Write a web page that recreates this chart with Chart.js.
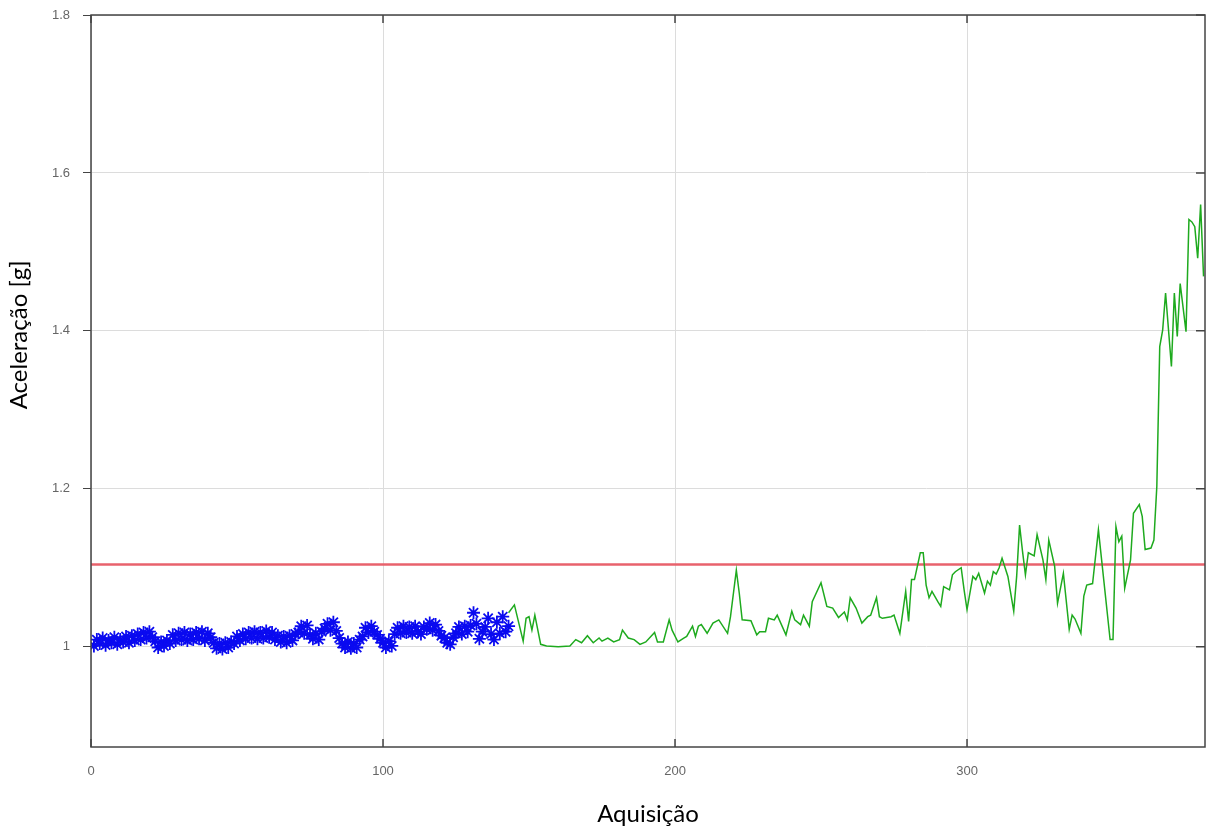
<!DOCTYPE html>
<html>
<head>
<meta charset="utf-8">
<script src="https://cdn.jsdelivr.net/npm/chart.js@4.4.1/dist/chart.umd.min.js"></script>
<style>
  body { margin: 0; background: #fff; }
  #wrap { width: 1207px; height: 830px; }
</style>
</head>
<body>
<div id="wrap"><canvas id="grafico-aceleracao" width="1207" height="830"></canvas></div>
<script>
// eixos
var xTicks = [0, 100, 200, 300];
var yTicks = [1, 1.2, 1.4, 1.6, 1.8];
var xMin = 0, xMax = 381.5;
var yMin = 0.873, yMax = 1.8;
var tituloX = 'Aquisição';
var tituloY = 'Aceleração [g]';

// limiar (linha vermelha)
var limiar = 1.104;

// aquisicoes 1..143 (asteriscos azuis)
var azulValores = [
  1.001, 1.009, 1.004, 1.011, 1.002, 1.008, 1.005, 1.012, 1.003, 1.009,
  1.006, 1.013, 1.005, 1.014, 1.008, 1.016, 1.009, 1.018, 1.011, 1.019,
  1.012, 1.007, 0.999, 1.006, 1.001, 1.008, 1.004, 1.015, 1.008, 1.017,
  1.009, 1.018, 1.008, 1.016, 1.009, 1.018, 1.010, 1.019, 1.008, 1.017,
  1.012, 1.005, 0.998, 1.004, 0.997, 1.005, 0.999, 1.006, 1.004, 1.013,
  1.008, 1.016, 1.010, 1.018, 1.011, 1.019, 1.010, 1.018, 1.011, 1.020,
  1.012, 1.018, 1.009, 1.014, 1.006, 1.013, 1.005, 1.014, 1.008, 1.016,
  1.018, 1.026, 1.017, 1.027, 1.015, 1.010, 1.017, 1.009, 1.019, 1.023,
  1.029, 1.021, 1.031, 1.020, 1.011, 1.004, 0.999, 1.006, 0.998, 1.004,
  0.999, 1.009, 1.013, 1.024, 1.018, 1.026, 1.019, 1.015, 1.010, 1.005,
  0.999, 1.007, 1.001, 1.016, 1.024, 1.017, 1.026, 1.018, 1.025, 1.017,
  1.026, 1.019, 1.016, 1.025, 1.022, 1.030, 1.021, 1.028, 1.020, 1.014,
  1.011, 1.005, 1.003, 1.012, 1.017, 1.025, 1.016, 1.026, 1.019, 1.027,
  1.043, 1.029, 1.010, 1.019, 1.025, 1.036, 1.016, 1.009, 1.031, 1.017,
  1.038, 1.019, 1.026
];

// linha verde (aquisicao, aceleracao)
var verdeX = [
  143, 145, 148, 149, 150, 151, 152, 154, 156, 160, 164, 166, 168, 170, 172, 174, 175, 177, 179, 181,
  182, 184, 186, 188, 190, 193, 194, 196, 198, 199, 201, 203, 204, 206, 207, 208, 209, 211, 213, 215,
  218, 219, 221, 222, 223, 226, 228, 229, 231, 232, 234, 235, 238, 240, 241, 243, 244, 246, 247, 250,
  252, 254, 256, 258, 259, 260, 262, 264, 266, 267, 269, 270, 271, 274, 275, 277, 279, 280, 281, 282,
  284, 285, 286, 287, 288, 290, 291, 292, 294, 295, 296, 298, 299, 300, 302, 303, 304, 306, 307, 308,
  309, 310, 311, 312, 314, 316, 317, 318, 319, 320, 321, 323, 324, 326, 327, 328, 330, 331, 333, 335,
  336, 337, 339, 340, 341, 343, 345, 349, 350, 351, 352, 353, 354, 356, 357, 359, 360, 361, 363, 364,
  365, 366, 367, 368, 370, 371, 372, 373, 375, 376, 377, 378, 379, 380, 381
];
var verdeY = [
  1.043, 1.053, 1.007, 1.036, 1.038, 1.021, 1.040, 1.003, 1.001, 1.000, 1.001, 1.009, 1.005, 1.014, 1.005, 1.011, 1.007, 1.011, 1.006, 1.009,
  1.021, 1.011, 1.009, 1.003, 1.006, 1.018, 1.006, 1.006, 1.034, 1.021, 1.006, 1.011, 1.013, 1.026, 1.013, 1.026, 1.028, 1.017, 1.030, 1.034,
  1.017, 1.038, 1.097, 1.068, 1.034, 1.033, 1.015, 1.019, 1.019, 1.036, 1.034, 1.040, 1.015, 1.045, 1.034, 1.028, 1.040, 1.026, 1.057, 1.081,
  1.051, 1.049, 1.037, 1.044, 1.034, 1.062, 1.049, 1.030, 1.038, 1.040, 1.062, 1.038, 1.036, 1.038, 1.040, 1.017, 1.070, 1.032, 1.085, 1.085,
  1.119, 1.119, 1.078, 1.062, 1.070, 1.057, 1.051, 1.076, 1.072, 1.091, 1.095, 1.100, 1.072, 1.047, 1.089, 1.085, 1.093, 1.068, 1.083, 1.078,
  1.095, 1.092, 1.100, 1.112, 1.089, 1.045, 1.089, 1.154, 1.121, 1.091, 1.119, 1.115, 1.142, 1.110, 1.085, 1.135, 1.102, 1.055, 1.093, 1.022,
  1.040, 1.035, 1.017, 1.064, 1.078, 1.080, 1.148, 1.009, 1.009, 1.152, 1.133, 1.140, 1.074, 1.110, 1.169, 1.180, 1.165, 1.123, 1.125, 1.135,
  1.203, 1.380, 1.401, 1.448, 1.355, 1.448, 1.393, 1.460, 1.399, 1.541, 1.538, 1.532, 1.492, 1.560, 1.469
];

function loadChartAceleracao() {
    var azul = azulValores.map(function (v, i) { return { x: i + 1, y: v }; });
    var verde = verdeX.map(function (x, i) { return { x: x, y: verdeY[i] }; });
    var vermelho = [{ x: xMin, y: limiar }, { x: xMax, y: limiar }];

    // moldura, marcas internas e titulo do eixo y (estilo octave)
    var moldura = {
        id: 'moldura',
        afterDraw: function (chart) {
            var ctx = chart.ctx, a = chart.chartArea;
            var sx = chart.scales.x, sy = chart.scales.y;
            ctx.save();
            ctx.strokeStyle = '#444';
            ctx.lineWidth = 1.5;
            ctx.strokeRect(a.left, a.top, a.right - a.left, a.bottom - a.top);
            ctx.beginPath();
            xTicks.forEach(function (t) {
                var px = sx.getPixelForValue(t);
                ctx.moveTo(px, a.bottom); ctx.lineTo(px, a.bottom - 8);
                ctx.moveTo(px, a.top); ctx.lineTo(px, a.top + 8);
            });
            yTicks.forEach(function (t) {
                var py = sy.getPixelForValue(t);
                ctx.moveTo(a.right, py); ctx.lineTo(a.right - 9, py);
            });
            ctx.stroke();

            // titulo y um pouco acima do centro, como no original
            ctx.translate(19, a.top + (a.bottom - a.top) * 0.437);
            ctx.rotate(-Math.PI / 2);
            ctx.fillStyle = '#000';
            ctx.font = '24px Lato';
            ctx.textAlign = 'center';
            ctx.textBaseline = 'middle';
            ctx.fillText(tituloY, 0, 0);
            ctx.restore();
        }
    };

    var el = document.getElementById('grafico-aceleracao').getContext('2d');
    window.myLine = new Chart(el, {
        type: 'scatter',
        data: {
            datasets: [{
                label: 'limiar',
                data: vermelho,
                showLine: true,
                borderColor: 'rgb(232, 98, 108)',
                borderWidth: 2.5,
                pointRadius: 0,
                order: 3
            }, {
                label: 'teste',
                data: verde,
                showLine: true,
                borderColor: 'rgb(30, 170, 30)',
                borderWidth: 1.5,
                pointRadius: 0,
                tension: 0,
                order: 2
            }, {
                label: 'treino',
                data: azul,
                showLine: false,
                pointStyle: 'star',
                pointRadius: 6.5,
                borderColor: 'rgb(10, 10, 240)',
                backgroundColor: 'rgb(10, 10, 240)',
                pointBorderWidth: 1.8,
                order: 1
            }]
        },
        options: {
            responsive: false,
            animation: false,
            layout: { autoPadding: false, padding: { left: 0, right: 2, top: 15, bottom: 0 } },
            plugins: {
                legend: { display: false },
                tooltip: { enabled: false }
            },
            scales: {
                x: {
                    type: 'linear',
                    min: xMin,
                    max: xMax,
                    afterBuildTicks: function (s) { s.ticks = xTicks.map(function (v) { return { value: v }; }); },
                    afterFit: function (s) { s.height = 83; s.paddingLeft = 0; s.paddingRight = 0; },
                    grid: { color: '#dcdcdc', lineWidth: 1, drawTicks: false },
                    border: { display: false },
                    ticks: {
                        padding: 17,
                        color: '#666',
                        font: { family: 'Liberation Sans', size: 13 },
                        maxRotation: 0,
                        callback: function (v) { return String(v); }
                    },
                    title: {
                        display: true,
                        text: tituloX,
                        color: '#000',
                        font: { family: 'Lato', size: 24 },
                        padding: { top: 0, bottom: 1 }
                    }
                },
                y: {
                    type: 'linear',
                    min: yMin,
                    max: yMax,
                    afterBuildTicks: function (s) { s.ticks = yTicks.map(function (v) { return { value: v }; }); },
                    afterFit: function (s) { s.width = 91; s.paddingTop = 0; s.paddingBottom = 0; },
                    grid: { color: '#dcdcdc', lineWidth: 1, tickLength: 8, tickColor: '#444' },
                    border: { display: false },
                    ticks: {
                        padding: 13,
                        color: '#666',
                        font: { family: 'Liberation Sans', size: 13 },
                        callback: function (v) { return String(v); }
                    },
                    title: { display: false }
                }
            }
        },
        plugins: [moldura]
    });
}

loadChartAceleracao();
</script>
</body>
</html>
